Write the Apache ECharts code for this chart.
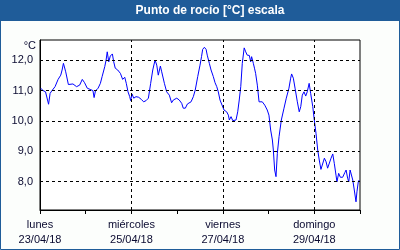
<!DOCTYPE html>
<html>
<head>
<meta charset="utf-8">
<script src="https://cdn.jsdelivr.net/npm/echarts@6/dist/echarts.min.js"></script>
<style>
html,body{margin:0;padding:0;background:#fcfefc;}
#c{width:400px;height:250px;}
</style>
</head>
<body>
<div id="c"></div>
<script>
// Time in hours since lunes 23/04/18 00:00
const hours = [0.4,1.6,2.9,3.8,4.5,5.3,6.3,7.9,9.5,10.9,11.6,12.3,13.5,14.9,15.9,17.3,19.2,20.8,22.2,23.4,
24.8,26.3,27.8,28.4,29.1,30.5,31.7,32.6,34.0,34.7,35.3,36.1,36.9,38.0,38.7,39.5,40.8,42.2,43.4,44.5,
45.3,46.2,47.1,47.6,48.3,49.2,50.4,51.8,53.2,54.4,55.7,56.9,58.1,59.2,60.4,61.3,62.1,63.2,63.9,65.3,
66.5,67.9,69.1,70.0,71.8,73.1,74.4,75.2,76.3,77.4,78.4,79.3,80.5,81.5,82.8,84.0,84.8,85.4,86.3,87.2,
87.8,88.9,89.8,91.0,91.9,92.8,93.6,94.5,95.4,96.6,98.0,98.9,99.4,100.3,101.2,102.0,102.9,103.8,104.6,105.4,
106.2,107.2,108.0,108.8,109.9,110.6,111.1,112.0,112.6,113.2,114.1,115.0,116.7,118.0,119.3,120.2,121.1,122.0,122.5,123.2,
123.9,124.6,125.5,126.7,128.1,129.3,130.7,131.6,132.1,133.0,133.9,135.1,136.1,136.9,137.7,138.6,139.5,140.3,141.3,142.1,
143.2,144.0,144.9,145.8,146.6,147.5,148.4,149.3,150.2,151.0,151.9,152.8,153.7,154.5,155.4,155.9,156.8,157.7,158.9,160.0,
160.7,161.5,162.1,162.8,163.6,164.2,165.0,165.9,166.4,167.1,167.6];
const dewPoint = [11.08,11.00,10.96,10.92,10.55,10.91,11.00,11.13,11.37,11.51,11.68,11.90,11.62,11.20,11.26,11.22,11.13,11.18,11.37,11.26,
11.08,11.04,11.00,10.77,10.99,11.08,11.24,11.46,11.79,12.01,12.28,11.95,12.14,12.21,11.95,11.74,11.68,11.57,11.37,11.44,
11.24,10.96,10.80,10.67,10.89,10.75,10.80,10.78,10.71,10.63,10.67,10.75,11.24,11.68,12.01,11.84,11.51,11.81,11.62,11.24,
10.96,10.85,10.60,10.69,10.75,10.69,10.58,10.42,10.42,10.56,10.52,10.63,10.80,11.02,11.46,11.84,12.12,12.36,12.43,12.36,
12.17,11.90,11.68,11.46,11.26,11.13,10.96,10.69,10.63,10.36,10.30,10.19,10.03,10.14,10.01,9.97,10.03,10.30,10.69,11.13,
11.90,12.41,12.28,12.17,12.16,11.95,12.12,11.90,11.74,11.57,11.18,10.63,10.63,10.52,10.36,10.19,9.70,9.37,9.04,8.38,
8.16,8.93,9.48,10.03,10.42,10.75,11.08,11.41,11.55,11.41,11.08,10.63,10.30,10.47,10.85,10.96,10.82,10.96,11.24,10.91,
10.47,10.03,9.59,9.04,8.71,8.40,8.40,8.77,8.65,8.44,8.40,8.77,8.91,8.60,8.21,7.99,8.27,8.14,8.14,8.29,
8.38,8.11,7.99,8.38,8.32,8.05,7.72,7.33,7.66,7.99,8.05];
const yTicks = [8, 9, 10, 11, 12];
const dayTicks = [0, 48, 96, 144];
const dayNames = ['lunes', 'miércoles', 'viernes', 'domingo'];
const dayDates = ['23/04/18', '25/04/18', '27/04/18', '29/04/18'];

const chart = echarts.init(document.getElementById('c'), null, {renderer: 'canvas'});
const txt = '#0a0a30';
const font = '"Liberation Sans", Arial, sans-serif';
const grid = [];
yTicks.forEach(v => grid.push({yAxis: v}));
dayTicks.slice(1).forEach(v => grid.push({xAxis: v}));

chart.setOption({
  animation: false,
  backgroundColor: '#fcfefc',
  graphic: [
    {type: 'rect', shape: {x: 0.5, y: 0.5, width: 399, height: 249}, style: {fill: 'none', stroke: '#1f5c99', lineWidth: 1}, z: 100},
    {type: 'rect', shape: {x: 0, y: 0, width: 400, height: 21}, style: {fill: '#1f5c99'}, z: 100},
    {type: 'text', x: 210, y: 11, style: {text: 'Punto de rocío [°C] escala', fill: '#ffffff', font: 'bold 12px ' + font, textAlign: 'center', textVerticalAlign: 'middle'}, z: 101},
    {type: 'text', x: 36, y: 46, style: {text: '°C', fill: txt, font: '11px ' + font, textAlign: 'right', textVerticalAlign: 'middle'}, z: 101}
  ],
  grid: {left: 40, top: 40, width: 320, height: 170, show: true, backgroundColor: '#ffffff', borderColor: '#000000', borderWidth: 1},
  xAxis: {
    type: 'value', min: 0, max: 168, interval: 24,
    axisLine: {show: true, lineStyle: {color: '#000', width: 1}},
    axisTick: {show: true, length: 4, lineStyle: {color: '#000'}},
    splitLine: {show: false},
    axisLabel: {
      margin: 7, fontSize: 11, fontFamily: font, color: txt, lineHeight: 15,
      formatter: v => { const i = dayTicks.indexOf(v); return i >= 0 ? dayNames[i] + '\n' + dayDates[i] : ''; }
    }
  },
  yAxis: {
    type: 'value', min: 7.06, max: 12.67,
    axisLine: {show: true, lineStyle: {color: '#000', width: 1}},
    axisTick: {show: false},
    splitLine: {show: false},
    axisLabel: {
      customValues: yTicks, margin: 7, fontSize: 11, fontFamily: font, color: txt,
      formatter: v => v.toFixed(1).replace('.', ',')
    }
  },
  series: [
    {
      type: 'line', data: [], z: 1, silent: true,
      markLine: {silent: true, symbol: 'none', label: {show: false}, animation: false,
        lineStyle: {color: '#000', type: [3, 3], width: 1}, data: grid}
    },
    {
      type: 'line', z: 3, showSymbol: false, symbol: 'none',
      lineStyle: {color: '#0000ff', width: 1},
      data: hours.map((h, i) => [h, dewPoint[i]])
    }
  ]
});
</script>
</body>
</html>
